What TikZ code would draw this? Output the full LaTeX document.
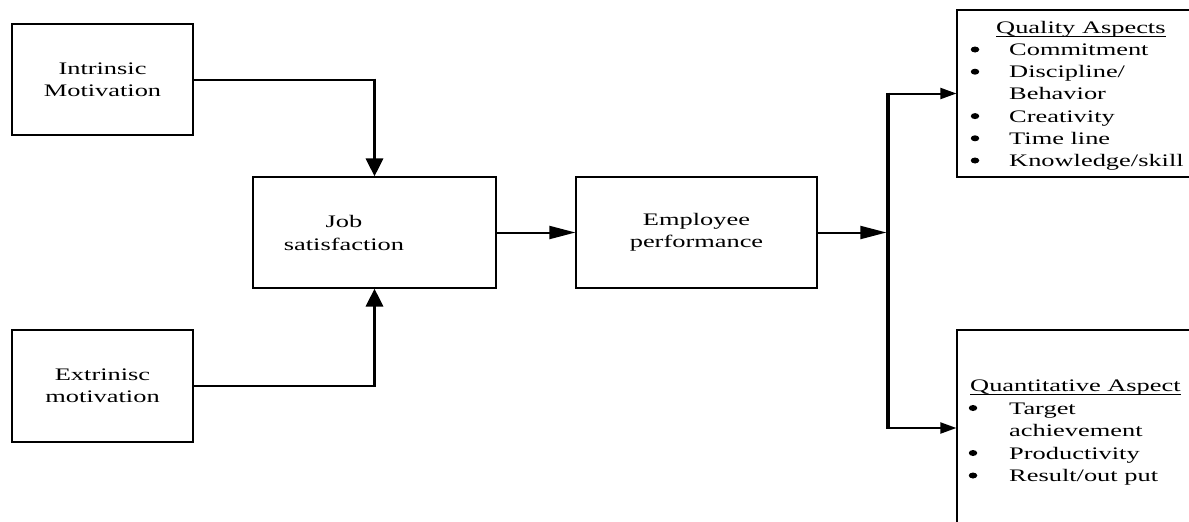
\documentclass[tikz,border=0pt]{standalone}
\usepackage{fontspec}
\setmainfont{Liberation Serif}[FakeStretch=1.5]
\usetikzlibrary{arrows.meta,shapes.geometric}
\begin{document}
\begin{tikzpicture}[x=1pt,y=-1pt,
  box/.style={draw, line width=1.2pt, rectangle, inner sep=0pt, align=center,
    font=\fontsize{17.6}{22.2}\selectfont},
  txt/.style={inner sep=0pt, font=\fontsize{17.6}{22.2}\selectfont},
  bul/.style={ellipse, fill, inner sep=0pt, minimum width=8.5pt, minimum height=6pt},
  hline/.style={line width=2pt},
  vline/.style={line width=3.2pt},
  harr/.style={hline, -{Triangle[length=26pt,width=13pt]}},
  sarr/.style={hline, -{Triangle[length=16pt,width=11pt]}},
  varr/.style={vline, -{Triangle[length=18pt,width=17pt]}},
]
\clip (0,0) rectangle (1189,522);
% boxes
\node[box, minimum width=181pt, minimum height=111pt] (intr) at (102.5,79.5) {Intrinsic\\Motivation};
\node[box, minimum width=181pt, minimum height=112pt] (extr) at (102.5,386) {Extrinisc\\motivation};
\node[box, minimum width=243pt, minimum height=111pt] (job) at (374.5,232.5) {};
\node[txt, align=center] (jobtxt) at (344,233) {Job\\satisfaction};
\node[box, minimum width=241pt, minimum height=111pt] (emp) at (696.5,232.5) {Employee\\performance};
\node[box, minimum width=243pt, minimum height=167pt] (qual) at (1078.5,93.5) {};
\node[box, minimum width=243pt, minimum height=196pt] (quant) at (1078.5,428) {};
% quality texts
\node[txt, anchor=base west] (qt) at (996,33.3) {Quality Aspects};
\draw[line width=1pt] ([yshift=-3pt]qt.base west) -- ([yshift=-3pt]qt.base east);
\node[bul] (qb1) at (975,49.5) {};
\node[txt, anchor=base west] (qi1) at (1009,55.5) {Commitment};
\node[bul] (qb2) at (975,71.7) {};
\node[txt, anchor=base west] (qi2) at (1009,77.7) {Discipline/};
\node[txt, anchor=base west] (qi3) at (1009,99.9) {Behavior};
\node[bul] (qb4) at (975,116.1) {};
\node[txt, anchor=base west] (qi4) at (1009,122.1) {Creativity};
\node[bul] (qb5) at (975,138.3) {};
\node[txt, anchor=base west] (qi5) at (1009,144.3) {Time line};
\node[bul] (qb6) at (975,160.5) {};
\node[txt, anchor=base west] (qi6) at (1009,166.5) {Knowledge/skill};
% quantitative texts
\node[txt, anchor=base west] (nt) at (970,391.5) {Quantitative Aspect};
\draw[line width=1pt] ([yshift=-3pt]nt.base west) -- ([yshift=-3pt]nt.base east);
\node[bul] (nb1) at (973,408) {};
\node[txt, anchor=base west] (ni1) at (1009,414) {Target};
\node[txt, anchor=base west] (ni2) at (1009,436.5) {achievement};
\node[bul] (nb3) at (973,453) {};
\node[txt, anchor=base west] (ni3) at (1009,459) {Productivity};
\node[bul] (nb4) at (973,475.5) {};
\node[txt, anchor=base west] (ni4) at (1009,481.5) {Result/out put};
% connectors left
\coordinate (c1) at (job.north |- intr.east);
\coordinate (c2) at (job.south |- extr.east);
\draw[hline] (intr.east) -- ([xshift=1.6pt]c1);
\draw[varr] ([yshift=1pt]c1) -- (job.north);
\draw[hline] (extr.east) -- ([xshift=1.6pt]c2);
\draw[varr] ([yshift=-1pt]c2) -- (job.south);
\draw[harr] (job.east) -- (emp.west);
% splitter
\coordinate (vt) at (888,93.5);
\coordinate (vb) at (888,428);
\coordinate (vm) at (886.4,232.5);
\draw[vline] ([yshift=1pt]vt) -- ([yshift=-1pt]vb);
\draw[harr] (emp.east) -- (vm);
\draw[sarr] (vt) -- (qual.west);
\draw[sarr] (vb) -- (quant.west);
\end{tikzpicture}
\end{document}
